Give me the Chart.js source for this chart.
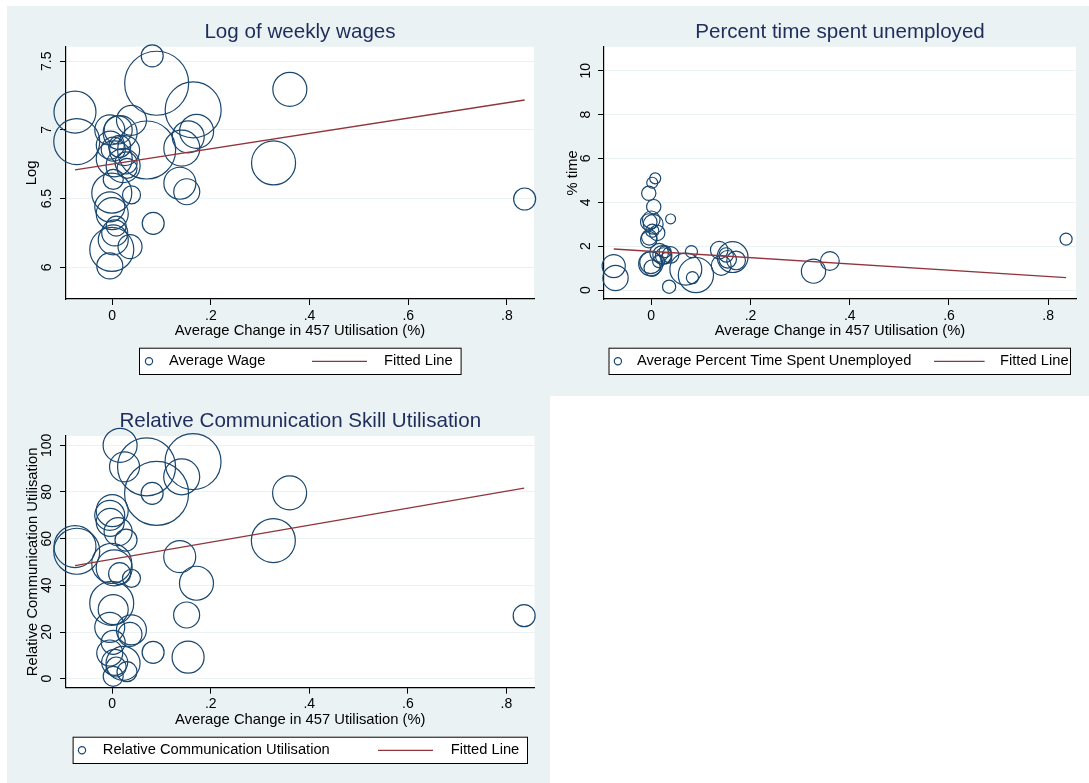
<!DOCTYPE html>
<html>
<head>
<meta charset="utf-8">
<title>457 utilisation and occupational outcomes</title>
<script src="https://cdn.jsdelivr.net/npm/chart.js@4.4.1/dist/chart.umd.min.js"></script>
<style>
  html, body { margin: 0; padding: 0; background: #ffffff; }
  body { width: 1089px; height: 783px; position: relative; overflow: hidden; }
  .band { position: absolute; background: #eaf2f3; }
  canvas { position: absolute; }
</style>
</head>
<body>
<div class="band" style="left:7px;top:6px;width:1082px;height:390px"></div>
<div class="band" style="left:7px;top:396px;width:543px;height:387px"></div>
<canvas id="wages" width="541" height="390" style="left:7px;top:6px"></canvas>
<canvas id="unemp" width="541" height="390" style="left:548px;top:6px"></canvas>
<canvas id="comm" width="543" height="387" style="left:7px;top:396px"></canvas>
<script>
// One entry per occupation: average change in 457 utilisation (%),
// employment weight (sets bubble area) and the three outcomes.
const changeIn457 = [
  -0.0756, -0.072, 0.090, 0.0697, 0.081, 0.164, 0.083, 0.171, 0.154, 0.141,
   0.137, 0.151, 0.327, 0.360, 0.836,
  -0.005, 0.012, 0.039, 0.016, -0.004, 0.002, 0.025, 0.015, 0.004, 0.028,
   0.030, 0.002, -0.001, 0.039, -0.005, 0.000, 0.008, 0.005, 0.002, -0.001,
   0.036, -0.005, 0.022
];
const employment = [
  441, 529, 1024, 841, 121, 784, 121, 289, 256, 324,
  256, 169, 484, 289, 121,
  225, 196, 225, 289, 196, 144, 225, 121, 324, 121,
  100, 100, 400, 81, 225, 256, 100, 169, 225, 484,
  144, 169, 289
];
const logWeeklyWage = [
  7.13, 6.915, 7.34, 6.854, 7.54, 7.146, 6.32, 6.99, 6.95, 6.867,
  6.612, 6.55, 6.76, 7.296, 6.497,
  7.00, 7.00, 7.07, 6.98, 6.89, 6.86, 6.85, 6.88, 6.79, 6.76,
  6.72, 6.64, 6.54, 6.527, 6.44, 6.39, 6.30, 6.25, 6.20, 6.13,
  6.15, 6.01, 6.74
];
const pctTimeUnemployed = [
  1.09, 0.55, 0.68, 0.95, 1.75, 1.50, 0.56, 1.35, 1.40, 1.12,
  1.82, 1.60, 0.86, 1.32, 2.32,
  3.10, 2.60, 1.60, 1.70, 2.40, 2.70, 1.55, 1.30, 3.00, 1.75,
  1.45, 4.89, 1.25, 3.24, 2.30, 3.20, 5.09, 3.80, 1.00, 1.20,
  0.15, 4.41, 1.60
];
const commUtilisation = [
  56.6, 54.6, 79.4, 90.8, 79.4, 93.0, 11.3, 40.9, 9.2, 86.5,
  52.3, 27.3, 59.2, 79.6, 27.0,
  70.0, 63.0, 20.9, 100.0, 67.0, 15.6, 90.8, 45.0, 47.5, 59.4,
  3.0, 1.0, 49.4, 43.0, 22.0, 72.0, 5.0, 7.0, 29.6, 32.3,
  19.0, 11.0, 6.6
];

// Fitted lines, evaluated at the smallest and largest change
const fitRange = [-0.0756, 0.836];
const wageFit = [6.709, 7.218];
const unempFit = [1.87, 0.56];
const commFit = [48.4, 81.7];

// Tick labels
const xTicks = [0, 0.2, 0.4, 0.6, 0.8];
const wageTicks = [6, 6.5, 7, 7.5];
const unempTicks = [0, 2, 4, 6, 8, 10];
const commTicks = [0, 20, 40, 60, 80, 100];

const FONT = "'Liberation Sans', Arial, Helvetica, sans-serif";
const NAVY = '#1a476f';
const MAROON = '#90353b';
const GRID = '#eaf2f3';
const TITLE = '#1e2d5c';

Chart.defaults.font.family = FONT;
Chart.defaults.color = '#000';

const fmtTick = v => {
  const s = String(+Number(v).toFixed(2));
  return s.replace(/^0\./, '.').replace(/^-0\./, '-.');
};

// White plot region
const plotRegion = {
  id: 'plotRegion',
  beforeDraw(chart) {
    const a = chart.chartArea, ctx = chart.ctx;
    ctx.save();
    ctx.fillStyle = '#ffffff';
    ctx.fillRect(a.left, a.top, a.right - a.left, a.bottom - a.top);
    ctx.restore();
  }
};

// Boxed legend: hollow marker + label, line sample + label
const boxLegend = {
  id: 'boxLegend',
  afterDraw(chart, args, o) {
    const ctx = chart.ctx;
    const [x0, y0, x1, y1] = o.box;
    const bubbles = chart.data.datasets.find(d => d.type === 'bubble');
    const fit = chart.data.datasets.find(d => d.type === 'line');
    ctx.save();
    ctx.fillStyle = '#ffffff';
    ctx.fillRect(x0, y0, x1 - x0, y1 - y0);
    ctx.strokeStyle = '#000';
    ctx.lineWidth = 1;
    ctx.strokeRect(x0 + 0.5, y0 + 0.5, x1 - x0 - 1, y1 - y0 - 1);
    ctx.beginPath();
    ctx.arc(o.markerX, o.cy, 3.6, 0, Math.PI * 2);
    ctx.strokeStyle = NAVY;
    ctx.lineWidth = 1.2;
    ctx.stroke();
    ctx.beginPath();
    ctx.moveTo(o.line[0], o.cy);
    ctx.lineTo(o.line[1], o.cy);
    ctx.strokeStyle = MAROON;
    ctx.lineWidth = 1.3;
    ctx.stroke();
    ctx.fillStyle = '#000';
    ctx.font = '14.7px ' + FONT;
    ctx.textAlign = 'left';
    ctx.textBaseline = 'middle';
    ctx.fillText(bubbles.label, o.textX, o.cy);
    ctx.fillText(fit.label, o.fitTextX, o.cy);
    ctx.restore();
  }
};

function panel(id, p) {
  const data = {
    datasets: [
      {
        type: 'line',
        label: 'Fitted Line',
        data: fitRange.map((x, i) => ({ x, y: p.fit[i] })),
        borderColor: MAROON,
        borderWidth: 1.3,
        pointRadius: 0,
        fill: false,
        order: 0
      },
      {
        type: 'bubble',
        label: p.seriesLabel,
        data: changeIn457.map((x, i) => ({ x, y: p.values[i], r: p.rScale * Math.sqrt(employment[i]) })),
        backgroundColor: 'rgba(0,0,0,0)',
        borderColor: NAVY,
        borderWidth: 1.2,
        hoverBorderWidth: 1.2,
        clip: false,
        order: 1
      }
    ]
  };
  return new Chart(document.getElementById(id), {
    type: 'bubble',
    data,
    plugins: [plotRegion, boxLegend],
    options: {
      responsive: false,
      animation: false,
      devicePixelRatio: 1,
      events: [],
      layout: { autoPadding: false, padding: { left: 0, right: p.padRight, top: 0, bottom: p.padBottom } },
      plugins: {
        legend: { display: false },
        tooltip: { enabled: false },
        title: {
          display: true,
          text: p.title,
          fullSize: false,
          color: TITLE,
          font: { size: 20.6, weight: 'normal' },
          padding: { top: p.titleTop, bottom: p.titleBottom }
        },
        boxLegend: p.legend
      },
      scales: {
        x: {
          type: 'linear',
          position: 'bottom',
          min: p.xMin,
          max: p.xMax,
          afterBuildTicks: s => { s.ticks = xTicks.map(v => ({ value: v })); },
          afterFit: s => { s.height = 45; },
          ticks: { autoSkip: false, maxRotation: 0, padding: 2.5, font: { size: 14 }, color: '#000', callback: fmtTick },
          grid: { drawOnChartArea: false, drawTicks: true, tickLength: 6, tickColor: '#000' },
          border: { color: '#000', width: 1.2 },
          title: { display: true, text: 'Average Change in 457 Utilisation (%)', font: { size: 14.8 }, color: '#000', padding: { top: 0, bottom: p.xTitlePad } }
        },
        y: {
          type: 'linear',
          position: 'left',
          min: p.yMin,
          max: p.yMax,
          afterBuildTicks: s => { s.ticks = p.yTicks.map(v => ({ value: v })); },
          afterFit: s => { s.width = p.yWidth; },
          ticks: { autoSkip: false, minRotation: 90, maxRotation: 90, crossAlign: 'center', padding: p.yTickPad, font: { size: 14 }, color: '#000', callback: fmtTick },
          grid: { color: GRID, lineWidth: 1, drawTicks: true, tickLength: 6, tickColor: '#000' },
          border: { color: '#000', width: 1.2 },
          title: { display: true, text: p.yTitle, font: { size: 14.8 }, color: '#000', padding: { top: p.yTitlePad, bottom: 0 } }
        }
      }
    }
  });
}

panel('wages', {
  title: 'Log of weekly wages',
  yTitle: 'Log',
  seriesLabel: 'Average Wage',
  values: logWeeklyWage,
  fit: wageFit,
  yTicks: wageTicks,
  yMin: 5.769, yMax: 7.606,
  xMin: -0.0938, xMax: 0.855,
  rScale: 1,
  yWidth: 59, padRight: 14, padBottom: 52,
  titleTop: 14, titleBottom: 2,
  xTitlePad: 4.2, yTitlePad: 16.4, yTickPad: 3.6,
  legend: { box: [132, 341.7, 454.6, 369], markerX: 142, textX: 162, line: [305, 360], fitTextX: 377, cy: 355.3 }
});

panel('unemp', {
  title: 'Percent time spent unemployed',
  yTitle: '% time',
  seriesLabel: 'Average Percent Time Spent Unemployed',
  values: pctTimeUnemployed,
  fit: unempFit,
  yTicks: unempTicks,
  yMin: -0.41, yMax: 11.09,
  xMin: -0.0952, xMax: 0.856,
  rScale: 0.55,
  yWidth: 56, padRight: 13, padBottom: 52,
  titleTop: 14, titleBottom: 2,
  xTitlePad: 4.2, yTitlePad: 16.1, yTickPad: 4.4,
  legend: { box: [60.5, 341.7, 523, 369], markerX: 69.9, textX: 89, line: [386, 436.6], fitTextX: 452, cy: 355.3 }
});

panel('comm', {
  title: 'Relative Communication Skill Utilisation',
  yTitle: 'Relative Communication Utilisation',
  seriesLabel: 'Relative Communication Utilisation',
  values: commUtilisation,
  fit: commFit,
  yTicks: commTicks,
  yMin: -3.86, yMax: 103.98,
  xMin: -0.0938, xMax: 0.857,
  rScale: 1,
  yWidth: 59, padRight: 15.5, padBottom: 50.3,
  titleTop: 13, titleBottom: 2.3,
  xTitlePad: 3.8, yTitlePad: 16.6, yTickPad: 0.8,
  legend: { box: [65.6, 340.7, 521, 368], markerX: 75, textX: 95.8, line: [371, 426], fitTextX: 443.7, cy: 354.3 }
});
</script>
</body>
</html>
